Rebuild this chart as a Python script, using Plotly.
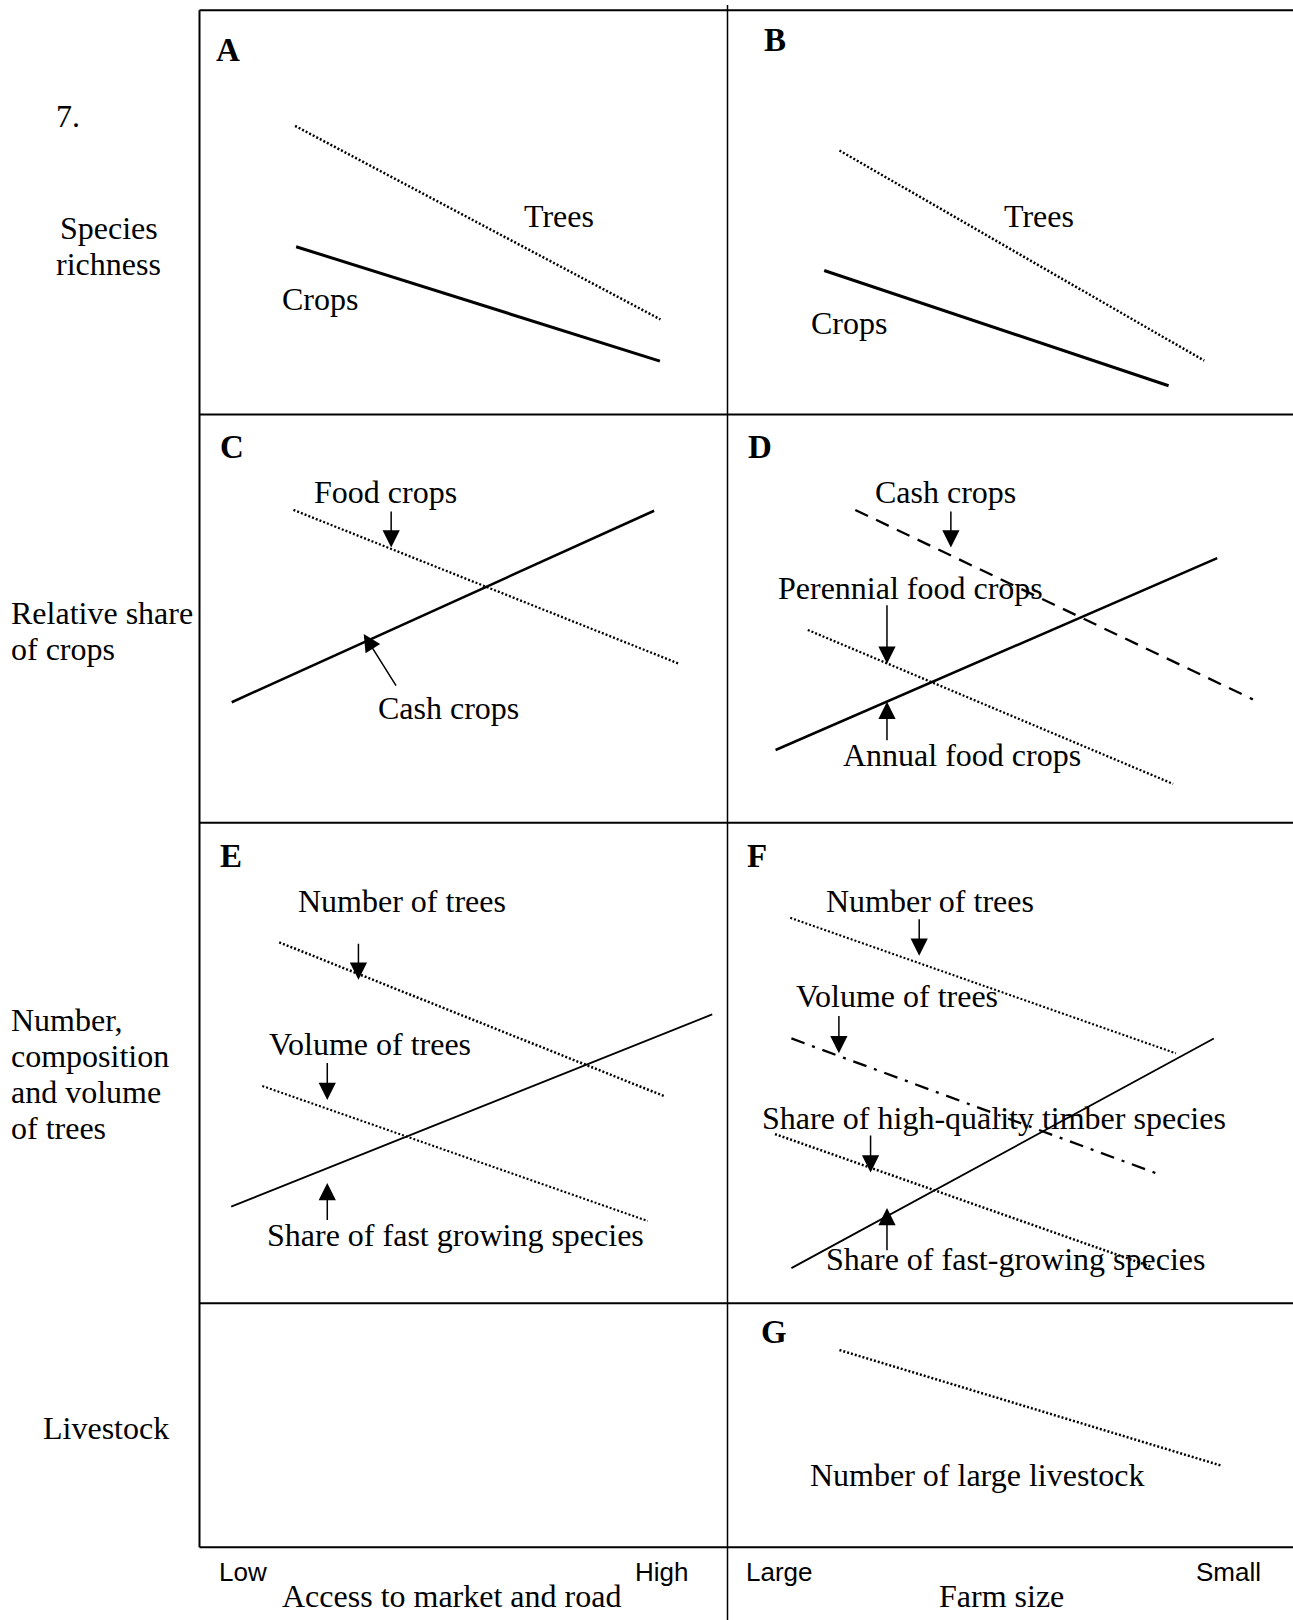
import plotly.graph_objects as go

# --- Data: schematic trends, in percent of each panel (x: left->right, y: bottom->top) ---
A_TREES = ([18.1, 87.3], [71.4, 23.5])
A_CROPS = ([18.3, 87.2], [41.5, 13.2])
B_TREES = ([19.8, 84.3], [65.3, 13.3])
B_CROPS = ([17.1, 78.0], [35.6, 7.1])
C_FOOD = ([17.8, 90.7], [76.6, 39.0])
C_CASH = ([6.1, 86.1], [29.5, 76.4])
D_CASH = ([22.6, 92.9], [76.6, 30.2])
D_PERENNIAL = ([14.2, 78.8], [47.2, 9.5])
D_ANNUAL = ([8.5, 86.6], [17.8, 64.8])
E_NUMBER = ([15.1, 88.0], [75.1, 43.1])
E_VOLUME = ([11.9, 84.9], [45.2, 17.1])
E_FAST = ([6.0, 97.1], [20.1, 60.1])
F_NUMBER = ([11.1, 79.3], [80.2, 52.0])
F_VOLUME = ([11.3, 75.9], [55.1, 27.0])
F_TIMBER = ([8.4, 74.9], [35.2, 7.6])
F_FAST = ([11.3, 86.0], [7.3, 55.1])
G_LIVESTOCK = ([19.8, 87.5], [80.8, 33.3])

ROW_LABELS = [["Species", "richness"], ["Relative share", "of crops"],
              ["Number,", "composition", "and volume", "of trees"], ["Livestock"]]
AXIS_ENDS = ["Low", "High", "Large", "Small"]
AXIS_TITLES = ["Access to market and road", "Farm size"]

W, H = 1293, 1620
SERIF = "Liberation Serif, Times New Roman, serif"
SANS = "Liberation Sans, Arial, sans-serif"
FS = 32

# panel frames in page pixels
X_L, X_M, X_R = 199.5, 727.5, W
ROWS = [10.3, 414.4, 822.7, 1303.2, 1547.2]
PANELS = {"A": (0, 0), "B": (1, 0), "C": (0, 1), "D": (1, 1), "E": (0, 2), "F": (1, 2), "G": (1, 3)}
AX = {}

fig = go.Figure()
layout_axes = {}
for i, (name, (col, row)) in enumerate(PANELS.items()):
    n = "" if i == 0 else str(i + 1)
    x0, x1 = (X_L, X_M) if col == 0 else (X_M, X_R)
    y0, y1 = ROWS[row], ROWS[row + 1]
    common = dict(range=[0, 100], visible=False, fixedrange=True)
    layout_axes["xaxis" + n] = dict(domain=[x0 / W, x1 / W], anchor="y" + n, **common)
    layout_axes["yaxis" + n] = dict(domain=[1 - y1 / H, 1 - y0 / H], anchor="x" + n, **common)
    AX[name] = ("x" + n, "y" + n)

DOT = "2px,2px"


def add_line(panel, xy, dash="solid", width=2):
    xa, ya = AX[panel]
    fig.add_trace(go.Scatter(x=xy[0], y=xy[1], mode="lines", xaxis=xa, yaxis=ya,
                             line=dict(color="black", width=width, dash=dash),
                             showlegend=False, hoverinfo="skip"))


annotations = []


def label(panel, text, x, y, size=FS, bold=False):
    xa, ya = AX[panel]
    annotations.append(dict(text=f"<b>{text}</b>" if bold else text, x=x, y=y, xref=xa, yref=ya,
                            showarrow=False, xanchor="center", yanchor="middle",
                            font=dict(family=SERIF, size=size, color="black")))


def arrow(panel, x0, y0, x1, y1):
    # tail (x0, y0) -> tip (x1, y1)
    xa, ya = AX[panel]
    annotations.append(dict(text="", x=x1, y=y1, ax=x0, ay=y0, xref=xa, yref=ya, axref=xa, ayref=ya,
                            showarrow=True, arrowhead=2, arrowsize=2.3, arrowwidth=1.5,
                            arrowcolor="black", standoff=0, startstandoff=0))


# A
add_line("A", A_TREES, DOT, 2.5)
add_line("A", A_CROPS, "solid", 3)
label("A", "A", 5.4, 90.2, 33, True)
label("A", "Trees", 68.0, 49.1)
label("A", "Crops", 22.8, 28.6)
# B
add_line("B", B_TREES, DOT, 2.5)
add_line("B", B_CROPS, "solid", 3)
label("B", "B", 8.4, 92.6, 33, True)
label("B", "Trees", 55.0, 49.1)
label("B", "Crops", 21.5, 22.7)
# C
add_line("C", C_FOOD, DOT, 2.3)
add_line("C", C_CASH, "solid", 2.5)
label("C", "C", 6.2, 91.9, 33, True)
label("C", "Food crops", 35.3, 80.9)
arrow("C", 36.3, 76.6, 36.3, 67.4)
label("C", "Cash crops", 47.1, 28.2)
arrow("C", 37.4, 33.2, 31.1, 46.2)
# D
add_line("D", D_CASH, "14px,9px", 2.3)
add_line("D", D_PERENNIAL, DOT, 2.3)
add_line("D", D_ANNUAL, "solid", 2.5)
label("D", "D", 5.7, 91.9, 33, True)
label("D", "Cash crops", 38.5, 81.1)
arrow("D", 39.5, 76.6, 39.5, 67.4)
label("D", "Perennial food crops", 32.4, 57.6)
arrow("D", 28.2, 53.6, 28.2, 38.9)
label("D", "Annual food crops", 41.4, 16.6)
arrow("D", 28.2, 19.8, 28.2, 29.6)
# E
add_line("E", E_NUMBER, DOT, 2.5)
add_line("E", E_VOLUME, DOT, 2.1)
add_line("E", E_FAST, "solid", 1.8)
label("E", "E", 5.9, 93.1, 33, True)
label("E", "Number of trees", 38.4, 83.7)
arrow("E", 30.1, 75.1, 30.1, 67.3)
label("E", "Volume of trees", 32.2, 53.9)
arrow("E", 24.2, 50.3, 24.2, 42.3)
label("E", "Share of fast growing species", 48.4, 14.2)
arrow("E", 24.2, 17.0, 24.2, 25.0)
# F
add_line("F", F_NUMBER, DOT, 2.1)
add_line("F", F_VOLUME, "14px,8px,3px,8px", 2.3)
add_line("F", F_TIMBER, DOT, 2.5)
add_line("F", F_FAST, "solid", 1.8)
label("F", "F", 5.3, 93.1, 33, True)
label("F", "Number of trees", 35.8, 83.7)
arrow("F", 33.9, 80.2, 33.9, 72.3)
label("F", "Volume of trees", 30.0, 64.0)
arrow("F", 19.7, 60.1, 19.7, 52.0)
label("F", "Share of high-quality timber species", 47.2, 38.6)
arrow("F", 25.3, 35.2, 25.3, 27.2)
label("F", "Share of fast-growing species", 51.0, 9.2)
arrow("F", 28.2, 10.7, 28.2, 19.8)
# G
add_line("G", G_LIVESTOCK, DOT, 2.5)
label("G", "G", 8.2, 88.0, 33, True)
label("G", "Number of large livestock", 44.2, 29.6)


def page_text(text, px, py, xanchor="left", family=SERIF, size=FS):
    annotations.append(dict(text=text, x=px / W, y=1 - py / H, xref="paper", yref="paper",
                            showarrow=False, xanchor=xanchor, yanchor="middle",
                            font=dict(family=family, size=size, color="black")))


page_text("7.", 53.5, 116)
# row labels, one annotation per line (36 px line pitch)
starts = [(108.5, 228, "center"), (8.5, 613, "left"), (8.5, 1020.4, "left"), (106, 1427.5, "center")]
for lines, (px, py, anc) in zip(ROW_LABELS, starts):
    for k, t in enumerate(lines):
        page_text(t, px, py + 36 * k, anc)

# axis ends and titles
page_text(AXIS_ENDS[0], 216.5, 1571.7, family=SANS, size=26)
page_text(AXIS_ENDS[1], 633, 1571.7, family=SANS, size=26)
page_text(AXIS_ENDS[2], 744.3, 1571.7, family=SANS, size=26)
page_text(AXIS_ENDS[3], 1194, 1571.7, family=SANS, size=26)
page_text(AXIS_TITLES[0], 451.5, 1596, "center")
page_text(AXIS_TITLES[1], 1001, 1596, "center")

# frame
shapes = []
for yy in ROWS:
    shapes.append(dict(type="line", xref="paper", yref="paper", x0=X_L / W, x1=1, y0=1 - yy / H, y1=1 - yy / H,
                       line=dict(color="black", width=2)))
shapes.append(dict(type="line", xref="paper", yref="paper", x0=X_L / W, x1=X_L / W,
                   y0=1 - ROWS[0] / H, y1=1 - ROWS[-1] / H, line=dict(color="black", width=2)))
shapes.append(dict(type="line", xref="paper", yref="paper", x0=X_M / W, x1=X_M / W,
                   y0=1 - 5 / H, y1=0, line=dict(color="black", width=1.5)))

fig.update_layout(width=W, height=H, autosize=False, margin=dict(l=0, r=0, t=0, b=0),
                  paper_bgcolor="white", plot_bgcolor="rgba(0,0,0,0)",
                  annotations=annotations, shapes=shapes, **layout_axes)

# drop the default 8px body margin so the page lines up with the figure
fig.write_html("out.html", config={"displayModeBar": False},
               post_script="document.body.style.margin='0';")
